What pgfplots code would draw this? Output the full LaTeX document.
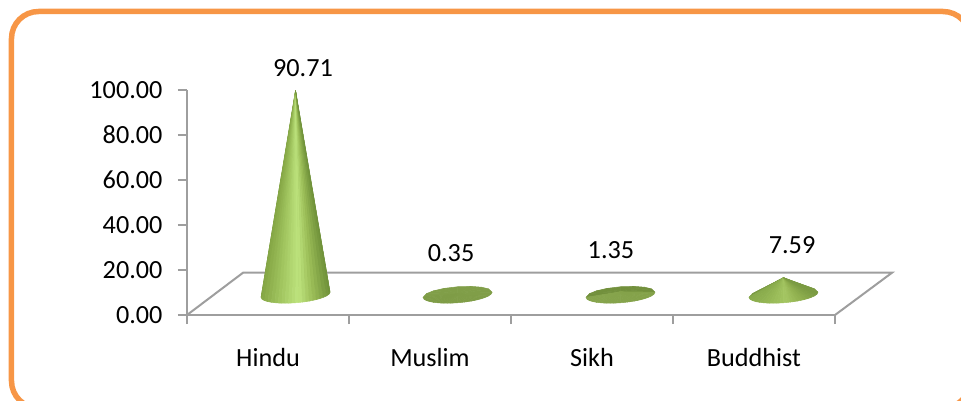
\documentclass[border=0pt]{standalone}
\usepackage{pgfplots}
\usepackage{pgfplotstable}
\pgfplotsset{compat=1.18}
\usepackage{fontspec}
\setmainfont{Carlito}
\definecolor{framec}{HTML}{F79646}
\definecolor{axisc}{HTML}{9E9E9E}
% cone template: u,v on the base ellipse, h = 1 for the apex, c = colour position
\pgfplotstableread[row sep=\\]{
u v h c\\
0 0 1 1.5\\ 1 0 0 1.5\\ .9 .436 0 1.5\\
0 0 1 1.5\\ .9 .436 0 1.5\\ .7 .714 0 1.5\\
0 0 1 1.5\\ .7 .714 0 1.5\\ .4 .917 0 1.5\\
0 0 1 1.5\\ .4 .917 0 1.5\\ 0 1 0 1.5\\
0 0 1 1.5\\ 0 1 0 1.5\\ -.4 .917 0 1.5\\
0 0 1 1.5\\ -.4 .917 0 1.5\\ -.7 .714 0 1.5\\
0 0 1 1.5\\ -.7 .714 0 1.5\\ -.9 .436 0 1.5\\
0 0 1 1.5\\ -.9 .436 0 1.5\\ -1 0 0 1.5\\
0 0 1 -.985\\ -1 0 0 -.985\\ -.97 -.243 0 -.985\\
0 0 1 -.935\\ -.97 -.243 0 -.935\\ -.9 -.436 0 -.935\\
0 0 1 -.85\\ -.9 -.436 0 -.85\\ -.8 -.6 0 -.85\\
0 0 1 -.75\\ -.8 -.6 0 -.75\\ -.7 -.714 0 -.75\\
0 0 1 -.65\\ -.7 -.714 0 -.65\\ -.6 -.8 0 -.65\\
0 0 1 -.55\\ -.6 -.8 0 -.55\\ -.5 -.866 0 -.55\\
0 0 1 -.45\\ -.5 -.866 0 -.45\\ -.4 -.917 0 -.45\\
0 0 1 -.35\\ -.4 -.917 0 -.35\\ -.3 -.954 0 -.35\\
0 0 1 -.25\\ -.3 -.954 0 -.25\\ -.2 -.98 0 -.25\\
0 0 1 -.15\\ -.2 -.98 0 -.15\\ -.1 -.995 0 -.15\\
0 0 1 -.05\\ -.1 -.995 0 -.05\\ 0 -1 0 -.05\\
0 0 1 .05\\ 0 -1 0 .05\\ .1 -.995 0 .05\\
0 0 1 .15\\ .1 -.995 0 .15\\ .2 -.98 0 .15\\
0 0 1 .25\\ .2 -.98 0 .25\\ .3 -.954 0 .25\\
0 0 1 .35\\ .3 -.954 0 .35\\ .4 -.917 0 .35\\
0 0 1 .45\\ .4 -.917 0 .45\\ .5 -.866 0 .45\\
0 0 1 .55\\ .5 -.866 0 .55\\ .6 -.8 0 .55\\
0 0 1 .65\\ .6 -.8 0 .65\\ .7 -.714 0 .65\\
0 0 1 .75\\ .7 -.714 0 .75\\ .8 -.6 0 .75\\
0 0 1 .85\\ .8 -.6 0 .85\\ .9 -.436 0 .85\\
0 0 1 .935\\ .9 -.436 0 .935\\ .97 -.243 0 .935\\
0 0 1 .985\\ .97 -.243 0 .985\\ 1 0 0 .985\\
}\fantable
\newcommand{\cone}[3]{%
 \addplot[patch, patch type=triangle, shader=faceted, faceted color=mapped color,
   line width=.5pt, line join=round, colormap name=#3, point meta=\thisrow{c}]
  table[x expr={#1+34.5*\thisrow{u}/162},
        y expr={9+(2.6*\thisrow{u}+8*\thisrow{v})/2.25+#2*\thisrow{h}}] {\fantable};
}
\begin{document}
\begin{tikzpicture}[x=1pt,y=1pt]
\path[use as bounding box] (-187,-85) rectangle (774,315);
\begin{axis}[
  scale only axis, width=648pt, height=225pt,
  xmin=0, xmax=4, ymin=0, ymax=100, clip=false,
  axis x line=bottom, axis y line=left,
  axis line style={-, draw=axisc, line width=2pt},
  tick style={draw=axisc, line width=2pt},
  tick align=outside, major tick length=9pt,
  xtick={0,1,2,3,4}, xticklabels={},
  extra x ticks={0.5,1.5,2.5,3.5},
  extra x tick labels={Hindu,Muslim,Sikh,Buddhist},
  extra x tick style={major tick length=0pt,
     tick label style={anchor=base, yshift=-51pt}},
  ytick={0,20,40,60,80,100},
  /pgf/number format/assume math mode=true,
  /pgf/number format/fixed, /pgf/number format/zerofill, /pgf/number format/precision=2,
  yticklabel style={xshift=-12pt},
  tick label style={font=\fontsize{26.2}{28}\selectfont},
  point meta min=-1, point meta max=1.5,
  colormap={tall}{rgb255(0cm)=(132,165,68) rgb255(1cm)=(158,194,92) rgb255(2.2cm)=(190,228,126) rgb255(3cm)=(156,190,88) rgb255(4cm)=(112,146,58) rgb255(5cm)=(112,146,58)},
  colormap={mid}{rgb255(0cm)=(136,170,76) rgb255(1cm)=(148,182,84) rgb255(2.2cm)=(164,198,98) rgb255(3cm)=(146,178,80) rgb255(4cm)=(122,154,66) rgb255(5cm)=(122,154,66)},
  colormap={flatA}{rgb255(0cm)=(126,156,70) rgb255(5cm)=(128,158,72)},
  colormap={flatB}{rgb255(0cm)=(134,164,76) rgb255(4cm)=(132,162,74) rgb255(5cm)=(114,144,60)},
]
\addplot[axisc, line width=2pt, no marks] coordinates {(0,0) (.346,18.8) (4.352,18.8) (4,0)};
\cone{0.670}{90.71}{tall}
\cone{1.670}{0.35}{flatA}
\cone{2.676}{1.35}{flatB}
\cone{3.682}{7.59}{mid}
\node[font=\fontsize{26.2}{28}\selectfont] at (axis cs:.716,109.6) {90.71};
\node[font=\fontsize{26.2}{28}\selectfont] at (axis cs:1.630,27.6) {0.35};
\node[font=\fontsize{26.2}{28}\selectfont] at (axis cs:2.617,28.9) {1.35};
\node[font=\fontsize{26.2}{28}\selectfont] at (axis cs:3.735,31.1) {7.59};
\end{axis}
\draw[framec, line width=5.5pt, rounded corners=27pt] (-175.5,303.5) rectangle (783,-93);
\end{tikzpicture}
\end{document}
